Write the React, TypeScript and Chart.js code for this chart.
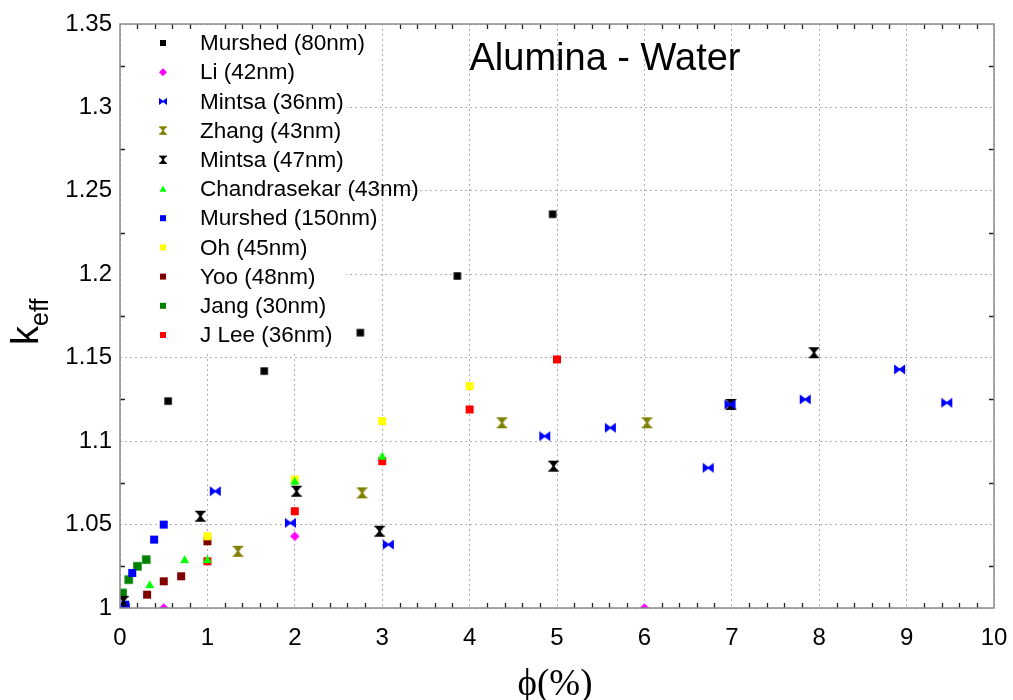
import React, { useEffect, useRef } from 'react';
import { Chart, registerables } from 'chart.js';

Chart.register(...registerables);

// ---------------- data ----------------
const seriesNames = [
  'Murshed (80nm)',
  'Li (42nm)',
  'Mintsa (36nm)',
  'Zhang (43nm)',
  'Mintsa (47nm)',
  'Chandrasekar (43nm)',
  'Murshed (150nm)',
  'Oh (45nm)',
  'Yoo (48nm)',
  'Jang (30nm)',
  'J Lee (36nm)',
];

const murshed80X = [0.55, 1.65, 2.75, 3.86, 4.95];
const murshed80Y = [1.124, 1.142, 1.165, 1.199, 1.236];

const liX = [0.5, 2.0, 6.0];
const liY = [1.0, 1.043, 1.0];

const mintsa36X = [0.05, 1.09, 1.95, 3.07, 4.86, 5.61, 6.73, 6.98, 7.84, 8.92, 9.46];
const mintsa36Y = [1.0, 1.07, 1.051, 1.038, 1.103, 1.108, 1.084, 1.122, 1.125, 1.143, 1.123];

const zhangX = [1.35, 2.77, 4.37, 6.03];
const zhangY = [1.034, 1.069, 1.111, 1.111];

const mintsa47X = [0.04, 0.92, 2.02, 2.97, 4.96, 6.99, 7.94];
const mintsa47Y = [1.004, 1.055, 1.07, 1.046, 1.085, 1.122, 1.153];

const chandraX = [0.0, 0.34, 0.74, 1.0, 2.0, 3.0];
const chandraY = [1.0, 1.014, 1.029, 1.029, 1.076, 1.091];

const murshed150X = [0.06, 0.14, 0.39, 0.5];
const murshed150Y = [1.002, 1.021, 1.041, 1.05];

const ohX = [0.0, 1.0, 2.0, 3.0, 4.0];
const ohY = [1.0, 1.043, 1.077, 1.112, 1.133];

const yooX = [0.31, 0.5, 0.7, 1.0];
const yooY = [1.008, 1.016, 1.019, 1.04];

const jangX = [0.03, 0.1, 0.2, 0.3];
const jangY = [1.009, 1.017, 1.025, 1.029];

const jleeX = [1.0, 2.0, 3.0, 4.0, 5.0];
const jleeY = [1.028, 1.058, 1.088, 1.119, 1.149];

const seriesX = [murshed80X, liX, mintsa36X, zhangX, mintsa47X, chandraX, murshed150X, ohX, yooX, jangX, jleeX];
const seriesY = [murshed80Y, liY, mintsa36Y, zhangY, mintsa47Y, chandraY, murshed150Y, ohY, yooY, jangY, jleeY];

const seriesColors = [
  '#000000', '#ff00ff', '#0000ff', '#808000', '#000000',
  '#00ff00', '#0000ff', '#ffff00', '#800000', '#008000', '#ff0000',
];

type Shape = 'square' | 'diamond' | 'bowtie' | 'hourglass' | 'triangle';
const seriesShapes: Shape[] = [
  'square', 'diamond', 'bowtie', 'hourglass', 'hourglass',
  'triangle', 'square', 'square', 'square', 'square', 'square',
];
const markerSizes = [7.5, 9.5, 11, 11, 11, 9, 8, 8, 8, 8.5, 8];
const legendSizes = [6, 8, 8, 8, 8, 7, 6, 6, 6, 6, 6];

const xMin = 0, xMax = 10, xStep = 1;
const yMin = 1, yMax = 1.35, yStep = 0.05;

const titleText = 'Alumina - Water';
const xTitleText = 'ϕ(%)';
const yTitleMain = 'k';
const yTitleSub = 'eff';

// ---------------- markers ----------------
function poly(ctx: CanvasRenderingContext2D, pts: number[][]) {
  ctx.beginPath();
  ctx.moveTo(pts[0][0], pts[0][1]);
  for (let i = 1; i < pts.length; i++) ctx.lineTo(pts[i][0], pts[i][1]);
  ctx.closePath();
  ctx.fill();
}

function drawShape(ctx: CanvasRenderingContext2D, shape: Shape, cx: number, cy: number, s: number, color: string) {
  const h = s / 2;
  ctx.fillStyle = color;
  switch (shape) {
    case 'square':
      ctx.fillRect(cx - h, cy - h, s, s);
      break;
    case 'diamond':
      poly(ctx, [[cx, cy - h], [cx + h, cy], [cx, cy + h], [cx - h, cy]]);
      break;
    case 'triangle':
      poly(ctx, [[cx, cy - h], [cx + h, cy + h * 0.8], [cx - h, cy + h * 0.8]]);
      break;
    case 'bowtie': {
      const v = h * 0.92;
      const o = s * 0.12;
      poly(ctx, [[cx - h, cy - v], [cx + o, cy], [cx - h, cy + v]]);
      poly(ctx, [[cx + h, cy - v], [cx - o, cy], [cx + h, cy + v]]);
      break;
    }
    case 'hourglass': {
      const w = h * 0.95;
      const o = s * 0.12;
      const bar = Math.max(1.2, s * 0.12);
      ctx.fillRect(cx - w, cy - h, 2 * w, bar);
      ctx.fillRect(cx - w, cy + h - bar, 2 * w, bar);
      poly(ctx, [[cx - w, cy - h], [cx + w, cy - h], [cx, cy + o]]);
      poly(ctx, [[cx - w, cy + h], [cx + w, cy + h], [cx, cy - o]]);
      break;
    }
  }
}

function makeMarker(shape: Shape, color: string, size: number): HTMLCanvasElement {
  const c = document.createElement('canvas');
  const w = Math.ceil(size) + 2;
  c.width = w;
  c.height = w;
  const ctx = c.getContext('2d')!;
  drawShape(ctx, shape, w / 2, w / 2, size, color);
  return c;
}

// ---------------- decorations plugin ----------------
const decorPlugin = {
  id: 'decor',
  beforeDatasetsDraw(chart: any) {
    const { ctx, chartArea: a } = chart;
    ctx.save();
    ctx.fillStyle = '#ffffff';
    ctx.fillRect(a.left + 1, a.top + 1, 345 - a.left, 350 - a.top);
    ctx.restore();
  },
  afterDraw(chart: any) {
    const { ctx, chartArea: a } = chart;
    const xs = chart.scales.x;
    const ys = chart.scales.y;
    ctx.save();

    // minor ticks (inward)
    ctx.strokeStyle = '#222222';
    ctx.lineWidth = 1.3;
    ctx.beginPath();
    for (let i = 1; i < (xMax - xMin) * 5; i++) {
      if (i % 5 === 0) continue;
      const px = Math.round(xs.getPixelForValue(xMin + i * 0.2)) + 0.5;
      ctx.moveTo(px, a.bottom);
      ctx.lineTo(px, a.bottom - 5);
      ctx.moveTo(px, a.top);
      ctx.lineTo(px, a.top + 5);
    }
    const nY = Math.round((yMax - yMin) / yStep);
    for (let i = 0; i < nY; i++) {
      const py = Math.round(ys.getPixelForValue(yMin + (i + 0.5) * yStep)) + 0.5;
      ctx.moveTo(a.left, py);
      ctx.lineTo(a.left + 5, py);
      ctx.moveTo(a.right, py);
      ctx.lineTo(a.right - 5, py);
    }
    ctx.stroke();

    // frame
    ctx.strokeStyle = '#8a8a8a';
    ctx.lineWidth = 1.5;
    ctx.strokeRect(a.left, a.top, a.right - a.left, a.bottom - a.top);

    // title
    ctx.fillStyle = '#000000';
    ctx.font = '38px "Liberation Sans", Arial, sans-serif';
    ctx.textAlign = 'center';
    ctx.textBaseline = 'alphabetic';
    ctx.fillText(titleText, 605, 70);

    // legend
    ctx.font = '22.5px "Liberation Sans", Arial, sans-serif';
    ctx.textAlign = 'left';
    ctx.textBaseline = 'middle';
    for (let i = 0; i < seriesNames.length; i++) {
      const yy = 43 + i * 29.2;
      drawShape(ctx, seriesShapes[i], 163, yy, legendSizes[i], seriesColors[i]);
      ctx.fillStyle = '#000000';
      ctx.fillText(seriesNames[i], 200, yy + 1);
    }

    // x title
    ctx.font = '37px "Liberation Serif", "Times New Roman", serif';
    ctx.textAlign = 'center';
    ctx.textBaseline = 'alphabetic';
    ctx.fillText(xTitleText, 555, 695);

    // y title
    ctx.translate(38, 345);
    ctx.rotate(-Math.PI / 2);
    ctx.textAlign = 'left';
    ctx.font = '38px "Liberation Sans", Arial, sans-serif';
    ctx.fillText(yTitleMain, 0, 0);
    const kw = ctx.measureText(yTitleMain).width;
    ctx.font = '25px "Liberation Sans", Arial, sans-serif';
    ctx.fillText(yTitleSub, kw, 10);

    ctx.restore();
  },
};

export default function App() {
  const ref = useRef<HTMLCanvasElement | null>(null);

  useEffect(() => {
    document.body.style.margin = '0';
    const canvas = ref.current;
    if (!canvas) return;

    const datasets = seriesNames.map((name, i) => ({
      label: name,
      data: seriesX[i].map((x, j) => ({ x, y: seriesY[i][j] })),
      pointStyle: makeMarker(seriesShapes[i], seriesColors[i], markerSizes[i]) as any,
      showLine: false,
      clip: 0,
      backgroundColor: seriesColors[i],
      borderColor: seriesColors[i],
    }));

    const gridColor = '#b0b0b0';
    const chart = new Chart(canvas, {
      type: 'scatter',
      data: { datasets },
      options: {
        responsive: false,
        animation: false,
        devicePixelRatio: 1,
        events: [],
        layout: { padding: { top: 24, right: 19, left: 0, bottom: 0 } },
        plugins: {
          legend: { display: false },
          tooltip: { enabled: false },
        },
        scales: {
          x: {
            type: 'linear',
            min: xMin,
            max: xMax,
            afterFit: (s: any) => { s.height = 92; s.paddingLeft = 0; s.paddingRight = 0; },
            ticks: {
              stepSize: xStep,
              color: '#000000',
              font: { family: '"Liberation Sans", Arial, sans-serif', size: 24 },
              padding: 16,
              maxRotation: 0,
              autoSkip: false,
            },
            grid: { color: gridColor, lineWidth: 1, drawTicks: false },
            border: { display: false, dash: [2, 3] },
          },
          y: {
            type: 'linear',
            min: yMin,
            max: yMax,
            afterFit: (s: any) => { s.width = 120; s.paddingTop = 0; s.paddingBottom = 0; },
            ticks: {
              stepSize: yStep,
              color: '#000000',
              font: { family: '"Liberation Sans", Arial, sans-serif', size: 24 },
              padding: 8,
              callback: (v: any) => String(Number(Number(v).toFixed(2))),
            },
            grid: { color: gridColor, lineWidth: 1, drawTicks: false },
            border: { display: false, dash: [2, 3] },
          },
        },
      },
      plugins: [decorPlugin],
    });

    return () => chart.destroy();
  }, []);

  return (
    <div style={{ width: 1013, height: 700 }}>
      <canvas ref={ref} width={1013} height={700} style={{ display: 'block', width: 1013, height: 700 }} />
    </div>
  );
}
